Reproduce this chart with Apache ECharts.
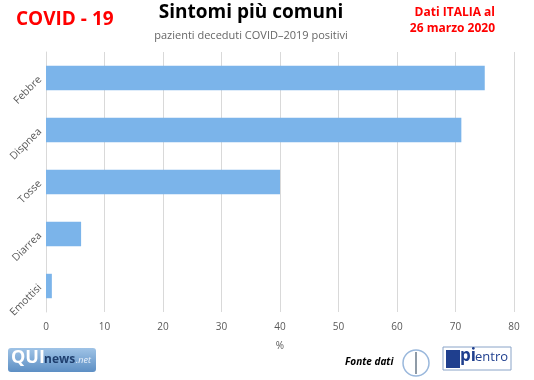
<!DOCTYPE html>
<html><head><meta charset="utf-8">
<script src="https://cdn.jsdelivr.net/npm/echarts@6/dist/echarts.min.js"></script>
<style>html,body{margin:0;padding:0;background:#fff}#c{width:534px;height:380px}</style>
</head><body><div id="c"></div>
<script>
const categories = ['Febbre', 'Dispnea', 'Tosse', 'Diarrea', 'Emottisi'];
const values = [75, 71, 40, 6, 1];
const xTicks = [0, 10, 20, 30, 40, 50, 60, 70, 80];

const chart = echarts.init(document.getElementById('c'), null, {renderer: 'canvas'});
const font = '"Open Sans","Noto Sans",sans-serif';
chart.setOption({
  animation: false,
  backgroundColor: '#ffffff',
  grid: {left: 46, right: 20, top: 52, bottom: 68, containLabel: false},
  xAxis: {
    type: 'value', min: xTicks[0], max: xTicks[xTicks.length - 1], interval: 10,
    name: '%', nameLocation: 'middle', nameGap: 29,
    nameTextStyle: {color: '#595959', fontSize: 10, fontFamily: font},
    axisLine: {show: false}, axisTick: {show: false},
    axisLabel: {color: '#595959', fontSize: 10, fontFamily: font, margin: 10},
    splitLine: {lineStyle: {color: '#d9d9d9', width: 1}}
  },
  yAxis: {
    type: 'category', data: categories, inverse: true,
    axisLine: {show: true, lineStyle: {color: '#d9d9d9'}},
    axisTick: {show: false},
    axisLabel: {color: '#595959', fontSize: 10.5, fontFamily: font, rotate: 45, margin: 6}
  },
  series: [{
    type: 'bar', data: values, barWidth: '47%',
    itemStyle: {color: '#7bb4ea'}
  }],
  graphic: [
    {type: 'text', x: 251, y: 3, style: {text: 'Sintomi più comuni', font: 'bold 19px ' + font, fill: '#000', align: 'center'}},
    {type: 'text', x: 251, y: 30, style: {text: 'pazienti deceduti COVID–2019 positivi', font: '11px ' + font, fill: '#666', align: 'center'}},
    {type: 'text', x: 16, y: 10, style: {text: 'COVID - 19', font: 'bold 19px ' + font, fill: '#ff0000'}},
    {type: 'text', x: 495, y: 7, style: {text: 'Dati ITALIA al', font: 'bold 12px ' + font, fill: '#ff0000', align: 'right'}},
    {type: 'text', x: 495, y: 23, style: {text: '26 marzo 2020', font: 'bold 12px ' + font, fill: '#ff0000', align: 'right'}},
    // QUInews logo
    {type: 'rect', shape: {x: 8, y: 348, width: 88, height: 24, r: 3},
      style: {fill: new echarts.graphic.LinearGradient(0, 0, 0, 1, [{offset: 0, color: '#9fc3e6'}, {offset: 1, color: '#5d8fc4'}])}},
    {type: 'text', x: 11, y: 349, style: {text: 'QUI', font: 'bold 18px ' + font, fill: '#fff'}},
    {type: 'text', x: 44, y: 354, style: {text: 'news', font: 'bold 12px ' + font, fill: '#1f3f6e'}},
    {type: 'text', x: 76, y: 356, style: {text: '.net', font: 'italic 9px ' + font, fill: '#e8f0fa'}},
    {type: 'text', x: 345, y: 357, style: {text: 'Fonte dati', font: 'italic bold 10px ' + font, fill: '#000'}},
    // ISS logo
    {type: 'circle', shape: {cx: 416, cy: 363, r: 13}, style: {fill: 'none', stroke: '#9ab8dc', lineWidth: 1.5}},
    {type: 'line', shape: {x1: 416, y1: 352, x2: 416, y2: 374}, style: {stroke: '#6a7a8a', lineWidth: 1.5}},
    // epicentro logo
    {type: 'rect', shape: {x: 443, y: 347, width: 68, height: 23}, style: {fill: '#fff', stroke: '#8aa4c8', lineWidth: 1}},
    {type: 'rect', shape: {x: 446, y: 350, width: 14, height: 18}, style: {fill: '#1f3f8e'}},
    {type: 'text', x: 460, y: 348, style: {text: 'pi', font: 'bold 17px ' + font, fill: '#1f3f8e'}},
    {type: 'text', x: 475, y: 351, style: {text: 'entro', font: '13px ' + font, fill: '#1f3f8e'}}
  ]
});
</script></body></html>
